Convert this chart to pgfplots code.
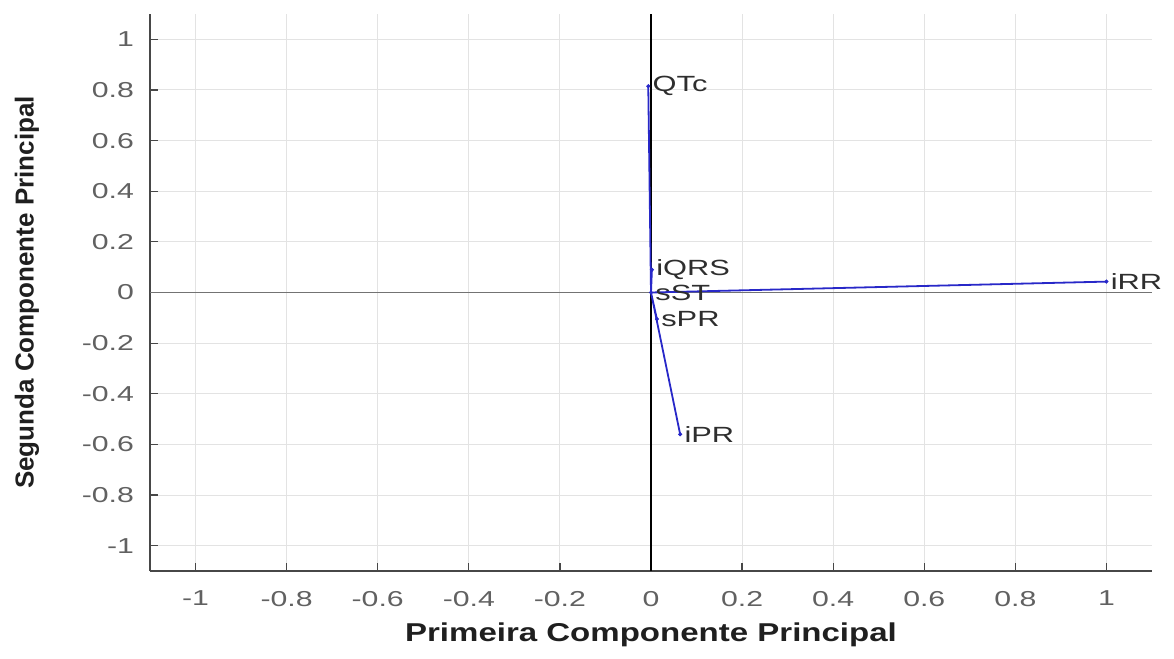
\documentclass[border=0pt]{standalone}
\usepackage{fontspec}
\setmainfont{Liberation Sans}
\newfontfamily\tickfont[FakeStretch=1.4]{Liberation Sans}
\newfontfamily\labfont[FakeStretch=1.28]{Liberation Sans}
\usepackage{pgfplots}
\usepackage{pgfplotstable}
\pgfplotsset{compat=1.18}
\definecolor{vec}{RGB}{40,40,200}
\pgfplotstableread{
x y name
-0.006 0.815 QTc
0.002 0.090 iQRS
0.000 0.000 sST
0.013 -0.105 sPR
0.064 -0.560 iPR
1.000 0.043 iRR
}\loadings
\pgfplotstableread{
x y
0 0
-0.006 0.815
nan nan
0 0
0.002 0.090
nan nan
0 0
0.013 -0.105
nan nan
0 0
0.064 -0.560
nan nan
0 0
1.000 0.043
}\vectors
\begin{document}
\begin{tikzpicture}
\useasboundingbox (-75pt,-44pt) rectangle (512pt,285.5pt);
\begin{axis}[
  at={(0,0)}, anchor=south west,
  scale only axis, width=501pt, height=278.5pt,
  xmin=-1.1, xmax=1.1, ymin=-1.1, ymax=1.1,
  xtick={-1,-0.8,-0.6,-0.4,-0.2,0,0.2,0.4,0.6,0.8,1},
  ytick={-1,-0.8,-0.6,-0.4,-0.2,0,0.2,0.4,0.6,0.8,1},
  xticklabels={-1,-0.8,-0.6,-0.4,-0.2,0,0.2,0.4,0.6,0.8,1},
  yticklabels={-1,-0.8,-0.6,-0.4,-0.2,0,0.2,0.4,0.6,0.8,1},
  axis lines*=left,
  axis line style={color=black!72, line width=0.8pt, -},
  tick align=inside, major tick length=4pt,
  tick style={color=black!72, line width=0.6pt},
  grid=major, grid style={color=black!11, line width=0.5pt},
  ticklabel style={font=\tickfont\fontsize{10.8}{12}\selectfont, text=black!62},
  xticklabel style={yshift=-6.5pt},
  yticklabel style={xshift=-4.5pt},
  xlabel={Primeira Componente Principal},
  ylabel={Segunda Componente Principal},
  xlabel style={font=\labfont\bfseries\fontsize{12.9}{14}\selectfont, text=black!88,
    at={(axis description cs:0.5,-0.1149)}, anchor=center},
  ylabel style={font=\bfseries\fontsize{13}{15}\selectfont, text=black!88,
    at={(axis description cs:-0.1228,0.5)}, anchor=center},
  unbounded coords=jump,
  clip=false,
]
\addplot[black!55, line width=0.5pt, forget plot] coordinates {(-1.1,0) (1.1,0)};
\addplot[black, line width=0.7pt, forget plot] coordinates {(0,-1.1) (0,1.1)};
\addplot[vec, line width=0.9pt, no markers] table[x=x, y=y] {\vectors};
\addplot[only marks, mark=*, mark size=0.8pt, vec,
  nodes near coords, point meta=explicit symbolic,
  every node near coord/.append style={anchor=west, inner sep=0pt, xshift=2pt,
    font=\tickfont\fontsize{11}{13}\selectfont, text=black!82}]
  table[x=x, y=y, meta=name] {\loadings};
\end{axis}
\end{tikzpicture}
\end{document}
